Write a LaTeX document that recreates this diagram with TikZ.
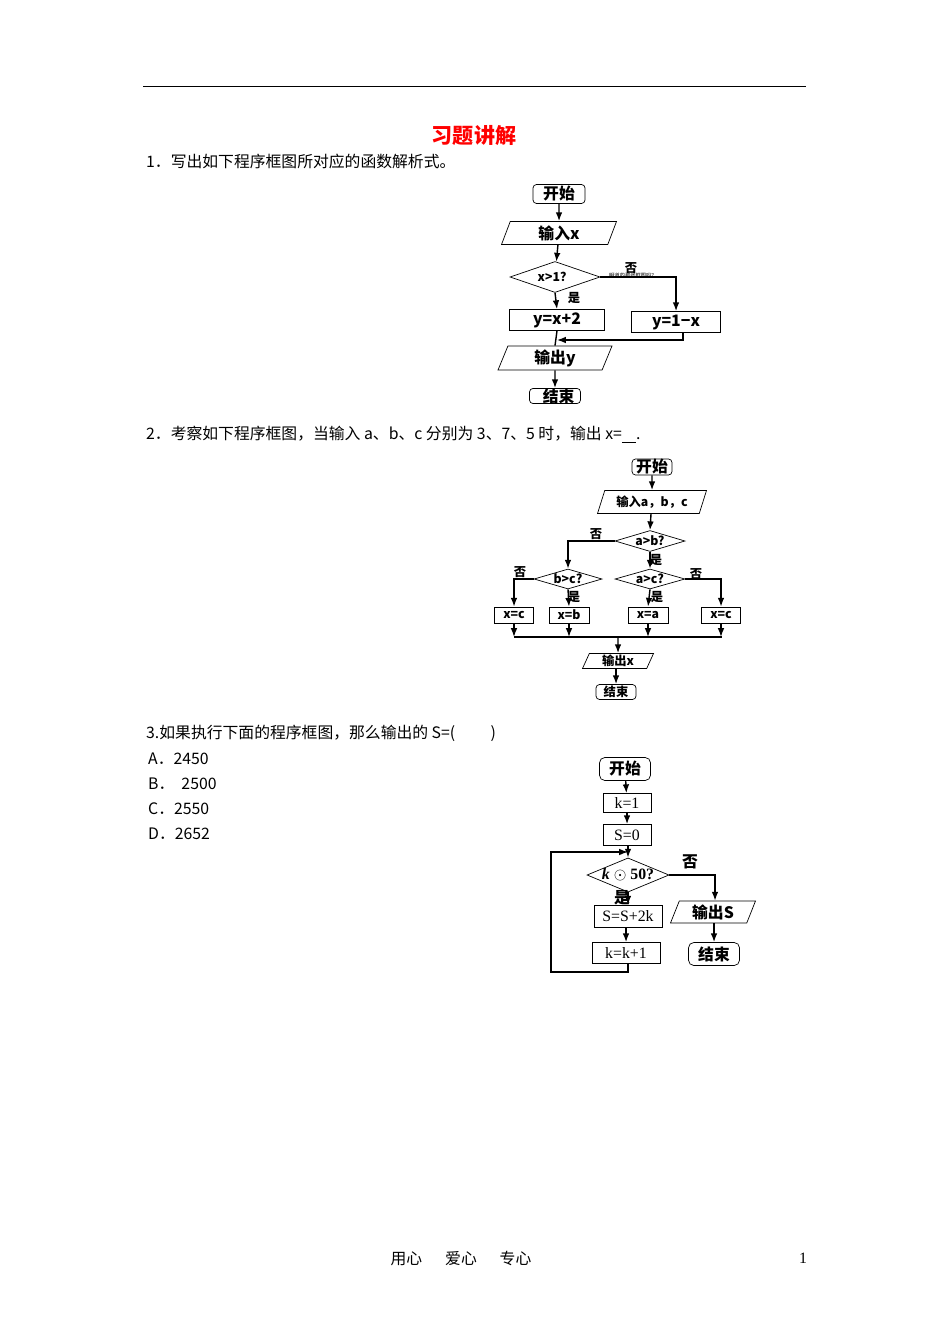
\documentclass[tikz,border=0pt]{standalone}
\usepackage{fontspec}
\setmainfont{Liberation Serif}
\newfontfamily\cjk{Noto Sans CJK SC}
\usetikzlibrary{shapes.geometric,arrows.meta}

\tikzset{
  box/.style={draw,thin,minimum height=#1,inner sep=0pt,font=\cjk\bfseries\small},
  io/.style={draw,thin,trapezium,trapezium left angle=60,trapezium right angle=120,trapezium stretches body,inner sep=0pt,font=\cjk\bfseries\small},
  cond/.style={draw,thin,diamond,aspect=3,inner sep=0pt,font=\cjk\bfseries\scriptsize},
  flow/.style={thick,-{Latex[length=5pt]}},
  lbl/.style={font=\cjk\bfseries\scriptsize},
  txt/.style={anchor=west,font=\cjk\small}
}

\begin{document}
\begin{tikzpicture}[x=0.02cm,y=-0.02cm]
			\useasboundingbox (0,0) rectangle (950,1344);
			\draw (143,86)--(806,86);
			\node[font=\cjk\bfseries\large,text=red] (title) at (474,136) {习题讲解};
			\node[txt] (q1) at (140,161) {1．写出如下程序框图所对应的函数解析式。};
			\node[txt] (q2) at (140,435) {2．考察如下程序框图，当输入 \textit{a}、\textit{b}、\textit{c} 分别为 3、7、5 时，输出 \textit{x}=\underline{\ \ \ \ }.};
			\node[txt] (q3) at (140,733) {3.如果执行下面的程序框图，那么输出的 S=(\ \ \ \ \ \ \ \ \ \ )};
			\node[txt] (oa) at (142,759) {A．2450};
			\node[txt] (ob) at (142,784) {B．\ \ 2500};
			\node[txt] (oc) at (142,809) {C．2550};
			\node[txt] (od) at (142,834) {D．2652};
			\node[font=\cjk\small] (foot) at (461,1258) {用心\quad\ \ 爱心\quad\ \ 专心};
			\node[font=\small] (page) at (803,1258) {1};

			% chart 1
			\node[box=0.38cm,rounded corners=2pt,minimum width=1.04cm] (s1) at (559,194) {开始};
			\node[io,minimum width=2.3cm,minimum height=0.46cm] (in1) at (559,233) {输入x};
			\node[cond,minimum width=1.8cm,minimum height=0.62cm] (d1) at (555,277) {x>1？};
			\node[box=0.42cm,minimum width=1.9cm] (p1) at (557,320) {y=x+2};
			\node[box=0.42cm,minimum width=1.78cm] (p2) at (676,322) {y=1−x};
			\node[io,minimum width=2.28cm,minimum height=0.48cm] (out1) at (555,358) {输出y};
			\node[box=0.3cm,rounded corners=2pt,minimum width=1.02cm] (e1) at (555,396) {\ \ 结束};
			\draw[flow] (s1)--(in1);
			\draw[flow] (in1)--(d1);
			\draw[flow] (d1.south)--(p1.north);
			\draw[flow] (d1.east)-|(p2.north);
			\draw[thick] (p1.south)--(out1.north);
			\draw[flow] (p2.south-|683,0)|-(557,340);
			\draw[flow] (out1)--(e1);
			\node[lbl] (no1) at (631,268) {否};
			\node[lbl] (yes1) at (574,298) {是};
			\node[font=\cjk\fontsize{3}{3}\selectfont,anchor=west] (note) at (603,276) {明道的那张框图吗？};

			% chart 2
			\node[box=0.32cm,rounded corners=2pt,minimum width=0.8cm] (s2) at (652,467) {开始};
			\node[io,minimum width=2.18cm,minimum height=0.46cm,font=\cjk\bfseries\scriptsize] (in2) at (652,502) {输入a，b，c};
			\node[cond,minimum width=1.4cm,minimum height=0.42cm] (d2) at (650,541) {a>b?};
			\node[cond,minimum width=1.36cm,minimum height=0.4cm] (d3) at (568,579) {b>c?};
			\node[cond,minimum width=1.4cm,minimum height=0.4cm] (d4) at (650,579) {a>c?};
			\node[box=0.32cm,minimum width=0.78cm,font=\cjk\bfseries\scriptsize] (r1) at (514,615) {x=c};
			\node[box=0.32cm,minimum width=0.8cm,font=\cjk\bfseries\scriptsize] (r2) at (569,615) {x=b};
			\node[box=0.32cm,minimum width=0.8cm,font=\cjk\bfseries\scriptsize] (r3) at (648,615) {x=a};
			\node[box=0.32cm,minimum width=0.78cm,font=\cjk\bfseries\scriptsize] (r4) at (721,615) {x=c};
			\node[io,minimum width=1.42cm,minimum height=0.3cm,font=\cjk\bfseries\scriptsize] (out2) at (618,661) {输出x};
			\node[box=0.3cm,rounded corners=2pt,minimum width=0.8cm,font=\cjk\bfseries\scriptsize] (e2) at (616,692) {结束};
			\draw[flow] (s2)--(in2);
			\draw[flow] (in2.south-|651,0)--(d2.north);
			\draw[flow] (d2.west)-|(d3.north);
			\draw[flow] (d2.south)--(d4.north);
			\draw[flow] (d3.west)-|(r1.north);
			\draw[flow] (d3.south)--(r2.north);
			\draw[flow] (d4.south)--(r3.north);
			\draw[flow] (d4.east)-|(r4.north);
			\coordinate (busl) at (514,637);
			\coordinate (busr) at (722,637);
			\draw[thick] (busl)--(busr);
			\foreach \r in {r1,r2,r3,r4} \draw[flow] (\r.south)--(\r.south|-busl);
			\draw[flow] (618,637)--(out2.north);
			\draw[flow] (out2.south-|616,0)--(e2.north);
			\node[lbl] (no2) at (596,534) {否};
			\node[lbl] (no3) at (520,572) {否};
			\node[lbl] (no4) at (696,574) {否};
			\node[lbl] (yes2) at (656,560) {是};
			\node[lbl] (yes3) at (574,597) {是};
			\node[lbl] (yes4) at (657,597) {是};

			% chart 3
			\node[box=0.46cm,rounded corners=3pt,minimum width=1.02cm] (s3) at (625,769) {开始};
			\node[box=0.38cm,minimum width=0.96cm,font=\small] (k1) at (627,803) {k=1};
			\node[box=0.42cm,minimum width=0.96cm,font=\small] (s0) at (627,835) {S=0};
			\node[cond,minimum width=1.42cm,minimum height=0.58cm,aspect=2.4,font=\bfseries\small] (d5) at (628,875) {\textit{k} $\odot$ 50?};
			\node[box=0.44cm,minimum width=1.36cm,font=\small] (u1) at (628,916) {S=S+2k};
			\node[box=0.42cm,minimum width=1.36cm,font=\small] (u2) at (626,953) {k=k+1};
			\node[io,minimum width=1.7cm,minimum height=0.44cm] (out3) at (713,912) {输出S};
			\node[box=0.46cm,rounded corners=3pt,minimum width=1.02cm] (e3) at (714,954) {结束};
			\draw[flow] (s3)--(k1);
			\draw[flow] (k1)--(s0);
			\draw[flow] (s0.south-|628,0)--(d5.north);
			\draw[flow] (d5.south)--(u1.north);
			\draw[flow] (u1.south-|626,0)--(u2.north);
			\draw[flow] (u2.south-|628,0)|-(551,972)|-(628,852);
			\draw[flow] (d5.east)-|(out3.north-|715,0);
			\draw[flow] (out3.south-|714,0)--(e3.north);
			\node[lbl,font=\cjk\bfseries\small] (no5) at (690,862) {否};
			\node[lbl,font=\cjk\bfseries\small] (yes5) at (622,898) {是};
\end{tikzpicture}
\end{document}
